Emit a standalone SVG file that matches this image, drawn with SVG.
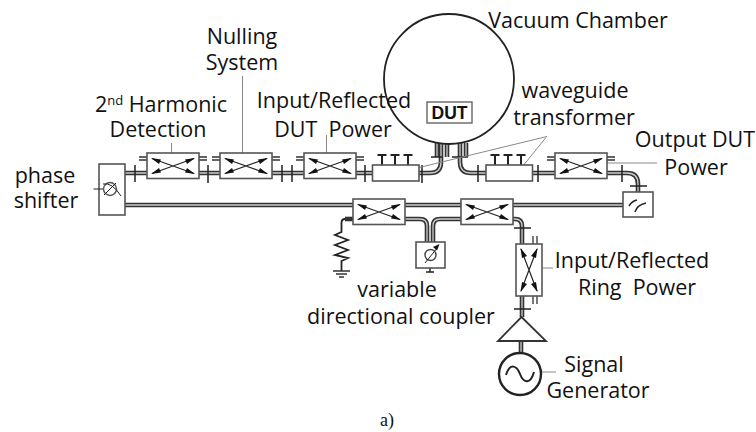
<svg xmlns="http://www.w3.org/2000/svg" xmlns:xlink="http://www.w3.org/1999/xlink" width="756" height="432" viewBox="0 0 756 432">
<style>
text{font-family:"Open Sans","Noto Sans",sans-serif;font-size:21.5px;fill:#111;text-anchor:middle;white-space:pre}
.box{fill:#fff;stroke:#555;stroke-width:1.6}
.wgo{fill:none;stroke:#333;stroke-width:4.6}
.wgi{fill:none;stroke:#ccc;stroke-width:1.3}
.tk{fill:none;stroke:#222;stroke-width:1.5}
.ln{fill:none;stroke:#888;stroke-width:1}
.x{fill:none;stroke:#222;stroke-width:1.2}
.ah{fill:#111;stroke:none}
.pt{fill:none;stroke:#333;stroke-width:1.3}
</style>
<defs>
<g id="cp">
<path class="pt" d="M-8 4H0M52 4H60M-8 7H0M52 7H60"/>
<rect class="box" x="0" y="0" width="52" height="25.500"/>
<path class="x" d="M5 5.500L47 20.500M47 5.500L5 20.500"/>
<path class="ah" d="M4 5L14 6.500L12 11ZM48 5L38 6.500L40 11ZM4 21L14 19.500L12 15ZM48 21L38 19.500L40 15Z"/>
</g>
<g id="cpl">
<rect class="box" x="0" y="0" width="52" height="25.500"/>
<path class="x" d="M5 5.500L47 20.500M47 5.500L5 20.500"/>
<path class="ah" d="M4 5L14 6.500L12 11ZM48 5L38 6.500L40 11ZM4 21L14 19.500L12 15ZM48 21L38 19.500L40 15Z"/>
</g>
<g id="ttt"><path fill="none" stroke="#222" stroke-width="2" d="M0 0H9M4.500 0V10M13 0H22M17.500 0V10M26 0H35M30.500 0V10"/></g>
<path id="wgs" d="M125 173H147M199 173H220M272 173H304M356 173H372M419 173H430Q441 173 441 162V143M125 205H353M405 205H461M512 205H623M460 143V162Q460 173 471 173H486M532 173H555M606 173H627Q638 173 638 184V192M405 219H420Q427 219 427 226V242M461 219H440Q433 219 433 226V242M512 219H515Q522 219 522 226V244M522 296V317M521 341V352M437 143V157M447 143V157M466 143V157"/>
</defs>
<g id="connectors">
<g id="wg-paths">
<use xlink:href="#wgs" class="wgo"/>
<use xlink:href="#wgs" class="wgi"/>
<path class="wgo" d="M353 219H345"/>
</g>
<g id="flanges">
<path class="tk" d="M135 165V182M208 165V183M282 165V182M292 165V182M365 165V182M422 165V183M478 165V182M538 165V182M622 165V182M431 157H442M452 157H468M630 186H647M514 228H531M514 309H531"/>
</g>
<path fill="none" stroke="#222" stroke-width="1.8" d="M345 219Q341.500 219 341.500 223V232L335 235L348 240L335 245L348 250L335 255L348 258L341.500 261V271"/>
<path fill="none" stroke="#333" stroke-width="1.500" d="M333 271H350M336 274H347M339 277H344"/>
<path class="tk" d="M430 268V272M426 272H434"/>
<g id="leaders">
<path class="ln" d="M171.500 143V158M242.500 76V157M326.500 135V159M396.500 173L547 136.500M518 172L546 137.500M603 163H657M541 268H553M541 372H556"/>
</g>
</g>
<g id="phase-shifter">
<rect class="box" x="99" y="164" width="26" height="51"/>
<circle cx="110" cy="189" r="6.500" fill="none" stroke="#555" stroke-width="1.400"/>
<path fill="none" stroke="#222" stroke-width="1" d="M93.500 189H103M104 195L116 183M103 184Q112 182 121 196"/>
</g>
<g id="coupler-harmonic"><use xlink:href="#cp" x="147" y="153"/></g>
<g id="coupler-nulling"><use xlink:href="#cp" x="220" y="153"/></g>
<g id="coupler-input"><use xlink:href="#cp" x="304" y="153"/></g>
<g id="transformer-left"><use xlink:href="#ttt" x="377.500" y="155"/><rect class="box" x="372.500" y="165" width="46.500" height="16"/></g>
<g id="transformer-right"><use xlink:href="#ttt" x="490.500" y="155"/><rect class="box" x="486" y="165" width="46.500" height="16"/></g>
<g id="coupler-output"><use xlink:href="#cp" x="555" y="153"/></g>
<g id="load-box">
<rect class="box" x="623" y="192" width="30" height="25"/>
<path class="tk" d="M629 206Q632 201 637 200M635 212Q637 205 646 203"/>
</g>
<g id="coupler-lower-left"><use xlink:href="#cpl" x="353" y="199"/></g>
<g id="coupler-lower-right"><use xlink:href="#cpl" x="461" y="199"/></g>
<g id="variable-box">
<rect class="box" x="416" y="242" width="29" height="26"/>
<circle cx="430.500" cy="255" r="5.500" fill="none" stroke="#444" stroke-width="1.400"/>
<path fill="none" stroke="#222" stroke-width="1" d="M425 263L438 247"/>
<path class="ah" d="M439.500 244L433 247L437 250.500Z"/>
</g>
<g id="coupler-vertical">
<path class="pt" d="M533 236V244M537 236V244M533 296V304M537 296V304"/>
<rect class="box" x="516" y="244" width="26" height="52"/>
<path class="x" d="M521 249L537 291M537 249L521 291"/>
<path class="ah" d="M520.500 248L522 258L527 256ZM537.500 248L536 258L531 256ZM520.500 292L522 282L527 284ZM537.500 292L536 282L531 284Z"/>
</g>
<g id="amplifier"><path d="M521.500 317L546 341H498Z" fill="#fff" stroke="#333" stroke-width="1.800"/></g>
<g id="signal-generator">
<circle cx="520" cy="374" r="21" fill="#fff" stroke="#222" stroke-width="2.400"/>
<path d="M506 375C510 362 517 366 520 374C523 382 530 386 534 372" fill="none" stroke="#222" stroke-width="2"/>
</g>
<g id="vacuum-chamber">
<circle cx="449" cy="79" r="65" fill="none" stroke="#222" stroke-width="1.800"/>
<rect x="427" y="102" width="45" height="21" fill="#fff" stroke="#666" stroke-width="1.400"/>
<text x="449.500" y="119" style="font-family:'Liberation Sans',sans-serif;font-size:17.5px;font-weight:700">DUT</text>
</g>
<g id="labels">
<text x="578" y="28">Vacuum Chamber</text>
<text x="242" y="44">Nulling</text>
<text x="242" y="70">System</text>
<text x="161" y="112">2<tspan dy="-7" style="font-size:13px">nd</tspan><tspan dy="7"> Harmonic</tspan></text>
<text x="158" y="137">Detection</text>
<text x="334" y="108">Input/Reflected</text>
<text x="333" y="137">DUT  Power</text>
<text x="575" y="98">waveguide</text>
<text x="574" y="125">transformer</text>
<text x="45" y="183">phase</text>
<text x="46" y="208">shifter</text>
<text x="695" y="147">Output DUT</text>
<text x="696" y="175">Power</text>
<text x="397" y="297">variable</text>
<text x="401" y="324">directional coupler</text>
<text x="632" y="268">Input/Reflected</text>
<text x="637" y="295">Ring  Power</text>
<text x="594" y="372">Signal</text>
<text x="598" y="398">Generator</text>
<text x="387" y="426" style="font-family:'Liberation Serif',serif;font-size:18px">a)</text>
</g>
</svg>
